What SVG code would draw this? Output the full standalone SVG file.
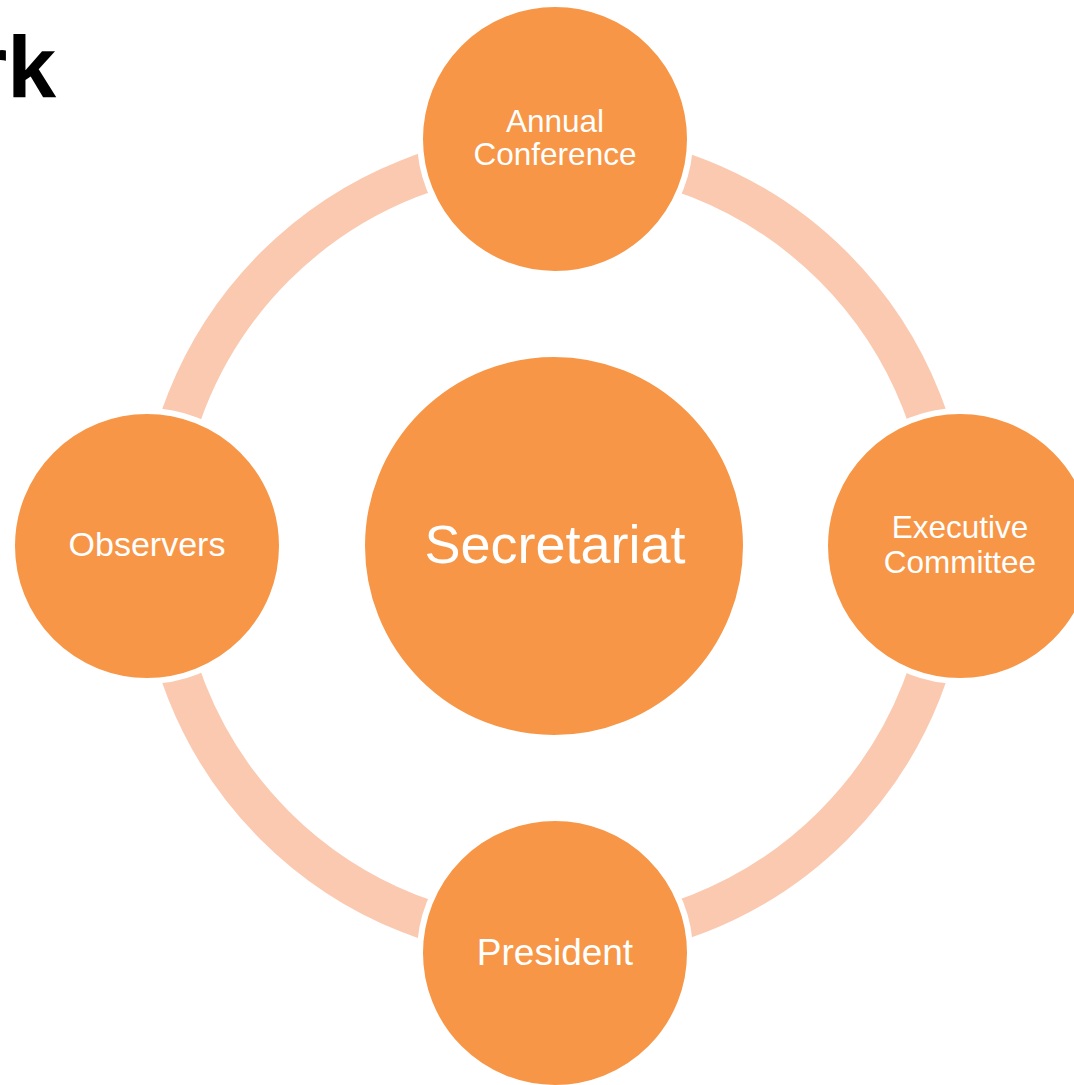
<svg xmlns="http://www.w3.org/2000/svg" width="1074" height="1085" viewBox="0 0 1074 1085">
  <style>
    .node { fill: #F79646; stroke: #FFFFFF; stroke-width: 6; }
    .label { fill: #FFFFFF; font-family: "Liberation Sans", Arial, sans-serif; text-anchor: middle; }
    .ring { fill: none; stroke: #FAC9B0; stroke-width: 40; }
    .title { fill: #000000; font-family: "Liberation Sans", Arial, sans-serif; font-weight: bold; font-size: 88px; }
  </style>
  <rect x="0" y="0" width="1074" height="1085" fill="#FFFFFF"/>
  <text class="title" x="-27" y="97">rk</text>
  <g id="connectors">
    <path class="ring" d="M 554 151 A 395 395 0 0 1 949 546"/>
    <path class="ring" d="M 949 546 A 395 395 0 0 1 554 941"/>
    <path class="ring" d="M 554 941 A 395 395 0 0 1 159 546"/>
    <path class="ring" d="M 159 546 A 395 395 0 0 1 554 151"/>
  </g>
  <g id="secretariat">
    <circle class="node" cx="554" cy="546" r="192"/>
    <text class="label" x="555" y="563" font-size="54">Secretariat</text>
  </g>
  <g id="annual-conference">
    <circle class="node" cx="555" cy="139" r="135"/>
    <text class="label" x="555" y="132" font-size="31.5">Annual</text>
    <text class="label" x="555" y="165" font-size="31.5">Conference</text>
  </g>
  <g id="executive-committee">
    <circle class="node" cx="960" cy="546" r="135"/>
    <text class="label" x="960" y="538" font-size="31.5">Executive</text>
    <text class="label" x="960" y="573" font-size="31.5">Committee</text>
  </g>
  <g id="president">
    <circle class="node" cx="555" cy="953" r="135"/>
    <text class="label" x="555" y="965" font-size="37">President</text>
  </g>
  <g id="observers">
    <circle class="node" cx="147" cy="546" r="135"/>
    <text class="label" x="147" y="556" font-size="34">Observers</text>
  </g>
</svg>
